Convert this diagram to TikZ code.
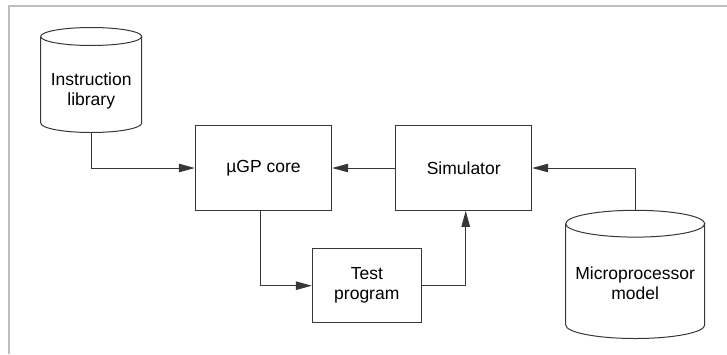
\documentclass[tikz,border=0pt]{standalone}
\usepackage{fontspec}
\setmainfont{Liberation Sans}
\usetikzlibrary{arrows.meta}
\definecolor{lncol}{RGB}{55,55,55}
\definecolor{frcol}{RGB}{190,190,190}
\tikzset{
  box/.style={draw=lncol, line width=1pt, minimum width=#1, align=center, inner sep=0pt},
  lbl/.style={align=center, inner sep=0pt, font=\fontsize{17.5}{20}\selectfont},
  cyl/.style={draw=lncol, line width=1pt, fill=white},
  arr/.style={draw=lncol, line width=1pt, -{Triangle[length=16pt,width=8.5pt]}},
}
\begin{document}
\begin{tikzpicture}[x=1pt,y=-1pt]
\useasboundingbox (0,0) rectangle (727,354);
% frame
\draw[frcol, line width=2pt] (8.5,354) -- (8.5,6) -- (727,6);

% Instruction library cylinder
\draw[cyl] (40.7,36.5) -- (40.7,123) arc[start angle=180,end angle=0,x radius=50.5,y radius=9.5] -- (141.7,36.5);
\draw[cyl] (91.2,36.5) ellipse[x radius=50.5,y radius=9];
\node[lbl] (lib) at (91.2,91) {Instruction\\library};
\coordinate (libbot) at (91.2,132.5);

% Microprocessor model cylinder
\draw[cyl] (565.7,223.7) -- (565.7,325) arc[start angle=180,end angle=0,x radius=69.5,y radius=13.5] -- (704.7,223.7);
\draw[cyl] (635.2,223.7) ellipse[x radius=69.5,y radius=13.4];
\node[lbl] (mp) at (635.2,283) {Microprocessor\\model};
\coordinate (mptop) at (635.2,210.3);

% boxes
\node[box=136.4pt, minimum height=84.6pt] (core) at (263.5,168) {};
\node[lbl] at (core.center) {µGP core};
\node[box=136pt, minimum height=84.6pt] (sim) at (463.7,168) {};
\node[lbl] at (sim.center) {Simulator};
\node[box=109pt, minimum height=74pt] (test) at (366.8,285.7) {};
\node[lbl] at (test.center) {Test\\program};

% connectors
\draw[arr] (libbot) |- (core.west);
\draw[arr] (sim.west) -- (core.east);
\draw[arr] (mptop) |- (sim.east);
\draw[arr] ([xshift=-3pt]core.south) |- (test.west);
\draw[arr] (test.east) -| ([xshift=2pt]sim.south);
\end{tikzpicture}
\end{document}
